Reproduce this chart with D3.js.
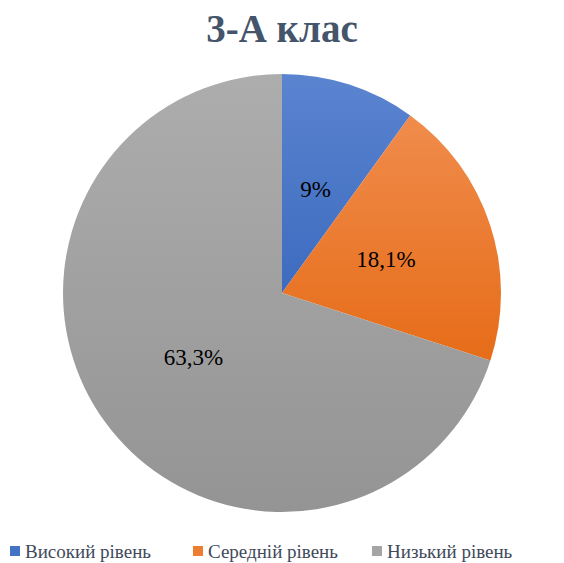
<!DOCTYPE html>
<html>
<head>
    <meta charset="UTF-8">
    <script src="https://d3js.org/d3.v7.min.js"></script>
</head>
<body style="margin:0">
    <svg id="chart" width="564" height="563"></svg>
    <script>
        const categories = ["Високий рівень", "Середній рівень", "Низький рівень"];
        const values = [9, 18.1, 63.3];
        const colorsTop = ["#5b84d0", "#f08c4c", "#adadad"];
        const colorsBottom = ["#3d6bbf", "#e66c18", "#949494"];
        const legendColors = ["#4472c4", "#ed7d31", "#a5a5a5"];

        const width = 564, height = 563;
        const cx = 282, cy = 293, radius = 219;
        const serif = "Tinos, FreeSerif, 'Nimbus Roman', 'Liberation Serif', Georgia, serif";

        const svg = d3.select("#chart");

        // градієнти для секторів
        const defs = svg.append("defs");
        categories.forEach((c, i) => {
            const g = defs.append("linearGradient")
                .attr("id", "grad" + i)
                .attr("x1", 0).attr("y1", 0)
                .attr("x2", 0).attr("y2", 1);
            g.append("stop").attr("offset", "0%").attr("stop-color", colorsTop[i]);
            g.append("stop").attr("offset", "100%").attr("stop-color", colorsBottom[i]);
        });

        svg.append("text")
            .attr("x", width / 2)
            .attr("y", 42)
            .attr("text-anchor", "middle")
            .attr("font-family", serif)
            .attr("font-size", 39)
            .attr("font-weight", "bold")
            .attr("fill", "#44546a")
            .text("3-А клас");

        const pie = d3.pie().sort(null).value(d => d);
        const arcs = pie(values);
        const arc = d3.arc().innerRadius(0).outerRadius(radius);
        const labelArc = d3.arc().innerRadius(radius * 0.5).outerRadius(radius * 0.5);

        const g = svg.append("g").attr("transform", `translate(${cx},${cy})`);

        g.selectAll("path")
            .data(arcs)
            .enter().append("path")
            .attr("d", arc)
            .attr("fill", (d, i) => `url(#grad${i})`);

        g.selectAll(".label")
            .data(arcs)
            .enter().append("text")
            .attr("class", "label")
            .attr("transform", d => `translate(${labelArc.centroid(d)})`)
            .attr("text-anchor", "middle")
            .attr("dy", "0.35em")
            .attr("font-family", serif)
            .attr("font-size", 23)
            .attr("fill", "#000")
            .text(d => String(d.data).replace(".", ",") + "%");

        // легенда
        const legendX = [10, 193, 372];
        const legend = svg.selectAll(".legend")
            .data(categories)
            .enter().append("g")
            .attr("class", "legend")
            .attr("transform", (d, i) => `translate(${legendX[i]},546)`);

        legend.append("rect")
            .attr("width", 10).attr("height", 10)
            .attr("fill", (d, i) => legendColors[i]);

        legend.append("text")
            .attr("x", 15)
            .attr("y", 12)
            .attr("font-family", serif)
            .attr("font-size", 19)
            .attr("fill", "#404a5a")
            .text(d => d);
    </script>
</body>
</html>
